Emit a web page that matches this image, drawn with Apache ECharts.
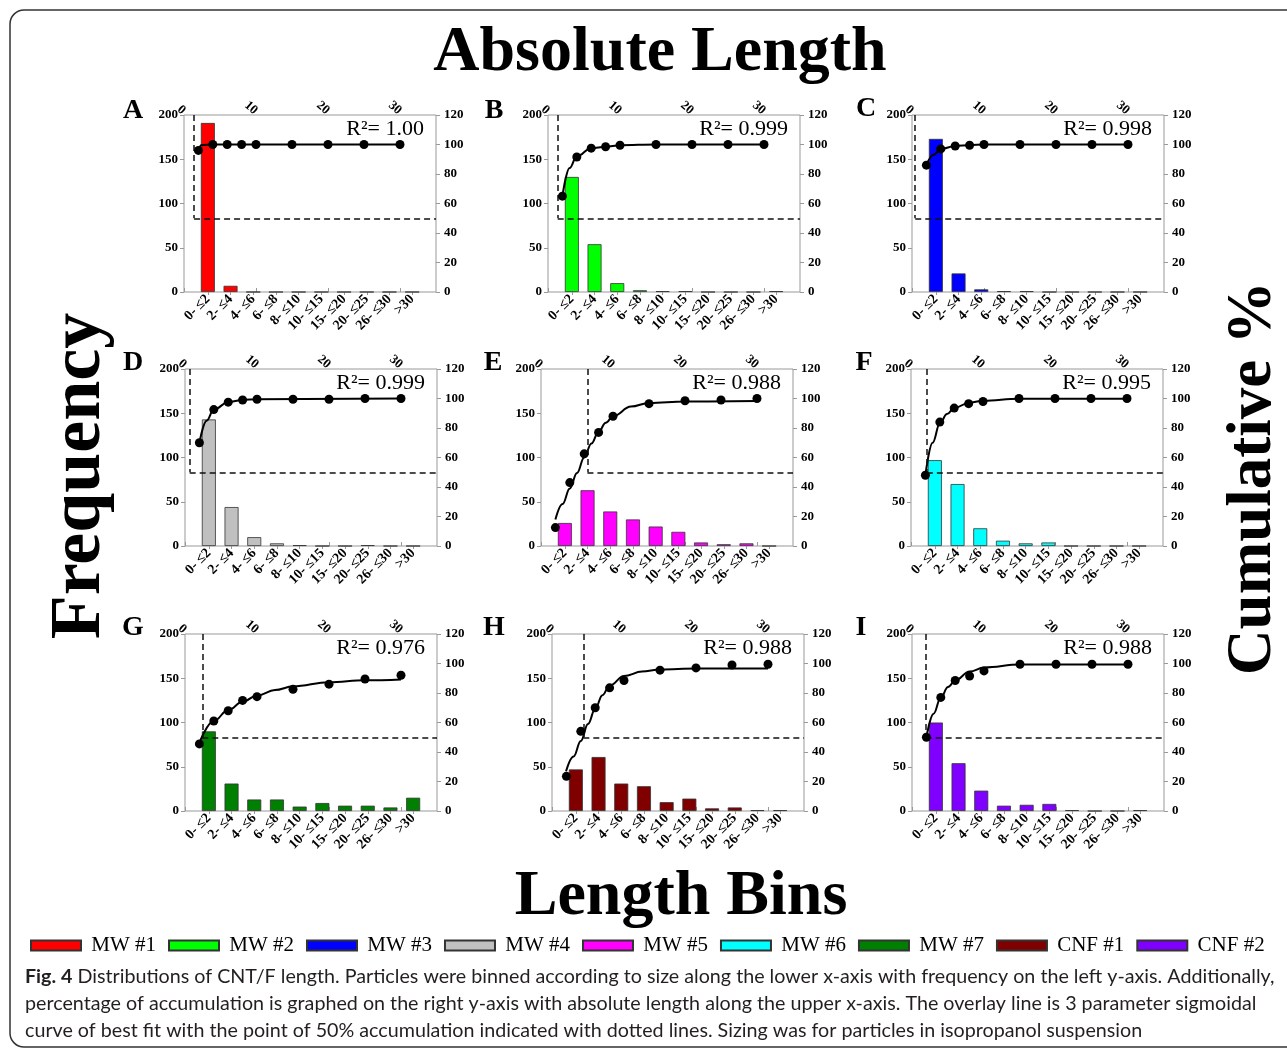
<!DOCTYPE html>
<html lang="en">
<head>
    <meta charset="UTF-8">
    <title>Absolute Length</title>
    <style>
        html, body { margin: 0; padding: 0; background: #fff; }
        #main { width: 1287px; height: 1050px; }
    </style>
</head>
<body>
<div id="main"></div>
<script src="https://cdn.jsdelivr.net/npm/echarts@6/dist/echarts.min.js"></script>
<script type="text/javascript">

    // length bins (lower x axis) and absolute lengths of the cumulative points (upper x axis)
    var bins = ['0- ≤2', '2- ≤4', '4- ≤6', '6- ≤8', '8- ≤10', '10- ≤15', '15- ≤20', '20- ≤25', '26- ≤30', '>30'];
    var lengths = [2, 4, 6, 8, 10, 15, 20, 25, 30];

    var sampleNames = ['MW #1', 'MW #2', 'MW #3', 'MW #4', 'MW #5', 'MW #6', 'MW #7', 'CNF #1', 'CNF #2'];
    var panelLetters = ['A', 'B', 'C', 'D', 'E', 'F', 'G', 'H', 'I'];
    var r2Labels = ['1.00', '0.999', '0.998', '0.999', '0.988', '0.995', '0.976', '0.988', '0.988'];
    // absolute length where the 50% dashed line is drawn
    var halfPoint = [1.4, 1.35, 0.45, 0.65, 6.45, 2.2, 2.4, 4.35, 1.9];

    // frequency per bin
    var freqA = [191, 7, 0, 0, 0, 0, 0, 0, 0, 0];
    var freqB = [130, 54, 10, 2, 1, 1, 0, 0, 0, 1];
    var freqC = [173, 21, 3, 1, 1, 0, 0, 0, 0, 0];
    var freqD = [143, 44, 10, 3, 1, 0, 0, 1, 0, 0];
    var freqE = [26, 63, 39, 30, 22, 16, 4, 2, 3, 0];
    var freqF = [97, 70, 20, 6, 3, 4, 0, 0, 0, 0];
    var freqG = [90, 31, 13, 13, 5, 9, 6, 6, 4, 15];
    var freqH = [47, 61, 31, 28, 10, 14, 3, 4, 1, 1];
    var freqI = [100, 54, 23, 6, 7, 8, 1, 0, 0, 1];

    // cumulative % at each length
    var cumA = [96, 100, 100, 100, 100, 100, 100, 100, 100];
    var cumB = [65, 91.5, 97.5, 98.5, 99.5, 100, 100, 100, 100];
    var cumC = [86, 97, 99, 99.5, 100, 100, 100, 100, 100];
    var cumD = [70, 92.5, 97.5, 99, 99.5, 99.5, 99.5, 100, 100];
    var cumE = [12.5, 43, 62.5, 77, 88, 96.5, 98.5, 99, 100];
    var cumF = [48, 84, 93.5, 96.5, 98, 100, 100, 100, 100];
    var cumG = [45.5, 61, 68, 75, 77.5, 82.5, 86, 89.5, 92];
    var cumH = [23.5, 54, 70, 83.5, 88.5, 95.5, 97, 99, 99.5];
    var cumI = [50, 77, 88.5, 91.5, 95, 99.5, 99.5, 99.5, 99.5];

    // fitted sigmoid curves as [length, %]
    var fitA = [[2, 96], [2.4, 99.5], [4, 100], [10, 100], [30, 100]];
    var fitB = [[2, 65], [3, 84], [4, 92], [6, 97.5], [8, 98.5], [10, 99.5], [15, 100], [30, 100]];
    var fitC = [[2, 86], [3, 93], [4, 97], [6, 99], [8, 99.5], [10, 100], [30, 100]];
    var fitD = [[2, 70], [3, 85], [4, 92.5], [6, 97.5], [8, 99], [10, 99.5], [30, 100]];
    var fitE = [[2, 18], [3, 28.5], [4, 39], [5, 49.5], [6, 60], [7, 69.5], [8, 77.5], [9, 83.5], [10, 88], [12.5, 94.5], [15, 97], [20, 98], [30, 98.3]];
    var fitF = [[2, 48], [3, 70], [4, 83], [5, 89.5], [6, 93.5], [8, 97], [10, 98.5], [15, 99.8], [30, 99.8]];
    var fitG = [[1.9, 45], [4, 61], [6, 68.5], [8, 74], [10, 78.3], [12.5, 82], [15, 84.5], [20, 87.3], [25, 88.6], [30, 89.2]];
    var fitH = [[1.95, 27], [3, 37], [4, 47.5], [5, 59], [6, 69.3], [7, 78.5], [8, 85], [10, 91.5], [12.5, 94.5], [15, 96], [20, 96.6], [30, 96.6]];
    var fitI = [[2, 50], [3, 66], [4, 77], [5, 84], [6, 88.5], [8, 94.5], [10, 97.3], [15, 99.3], [30, 99.3]];

    var barColors = ['#ff0000', '#00ff00', '#0000ff', '#c0c0c0', '#ff00ff', '#00ffff', '#008000', '#800000', '#8000ff'];

    var captionLines = [
        '{b|Fig. 4} Distributions of CNT/F length. Particles were binned according to size along the lower x-axis with frequency on the left y-axis. Additionally,',
        'percentage of accumulation is graphed on the right y-axis with absolute length along the upper x-axis. The overlay line is 3 parameter sigmoidal',
        'curve of best fit with the point of 50% accumulation indicated with dotted lines. Sizing was for particles in isopropanol suspension'
    ];

    var freqs = [freqA, freqB, freqC, freqD, freqE, freqF, freqG, freqH, freqI];
    var cums = [cumA, cumB, cumC, cumD, cumE, cumF, cumG, cumH, cumI];
    var fits = [fitA, fitB, fitC, fitD, fitE, fitF, fitG, fitH, fitI];

    // layout
    var panelLeft = [184, 548, 912, 185, 541, 911, 185, 552, 912];
    var rowTop = [115, 369, 634];
    var W = 252, H = 177, inset = 12.5;
    var letterPos = [[133, 110], [494, 110], [866, 108], [133, 362], [493, 362], [864, 362], [133, 627], [494, 627], [861, 627]];
    var serif = 'Liberation Serif';
    var frameColor = '#999';
    var capSize = 19.7;

    function build(extras) {
        var grids = [], xAxes = [], yAxes = [], series = [], graphics = [];

        for (var i = 0; i < 9; i++) {
            var top = rowTop[Math.floor(i / 3)];
            var left = panelLeft[i];

            // frame grid: cumulative % against absolute length
            grids.push({left: left, top: top, width: W, height: H, show: true, borderColor: frameColor, borderWidth: 1});
            // inner grid for the bars
            grids.push({left: left + inset, top: top, width: W - 2 * inset, height: H});

            xAxes.push({
                gridIndex: 2 * i, type: 'value', position: 'top', min: 0, max: 35, interval: 10,
                axisLine: {show: false},
                axisTick: {show: true, length: 4, lineStyle: {color: frameColor}},
                splitLine: {show: false},
                axisLabel: {rotate: -40, margin: 3, showMaxLabel: false, fontFamily: serif, fontWeight: 'bold', fontSize: 13, color: '#000'}
            });
            xAxes.push({
                gridIndex: 2 * i + 1, type: 'category', data: bins,
                axisLine: {show: false},
                axisTick: {show: true, alignWithLabel: true, length: 3, lineStyle: {color: frameColor}},
                axisLabel: {rotate: 45, interval: 0, margin: 5, fontFamily: serif, fontWeight: 'bold', fontSize: 14, color: '#000'}
            });
            yAxes.push({
                gridIndex: 2 * i, type: 'value', position: 'left', min: 0, max: 200, interval: 50,
                axisLine: {show: false}, axisTick: {show: true, length: 4, lineStyle: {color: frameColor}},
                splitLine: {show: false},
                axisLabel: {margin: 6, fontFamily: serif, fontWeight: 'bold', fontSize: 13, color: '#000'}
            });
            yAxes.push({
                gridIndex: 2 * i, type: 'value', position: 'right', min: 0, max: 120, interval: 20,
                axisLine: {show: false}, axisTick: {show: true, length: 4, lineStyle: {color: frameColor}},
                splitLine: {show: false},
                axisLabel: {margin: 8, fontFamily: serif, fontWeight: 'bold', fontSize: 13, color: '#000'}
            });
            yAxes.push({gridIndex: 2 * i + 1, type: 'value', min: 0, max: 200, show: false});

            series.push({
                name: sampleNames[i], type: 'bar', xAxisIndex: 2 * i + 1, yAxisIndex: 3 * i + 2,
                barWidth: 14, itemStyle: {color: barColors[i], borderColor: '#333', borderWidth: 0.8}, z: 2,
                data: freqs[i]
            });

            var hx = halfPoint[i];
            series.push({
                name: 'fit' + i, type: 'line', xAxisIndex: 2 * i, yAxisIndex: 3 * i + 1,
                smooth: 0.4, smoothMonotone: 'x', showSymbol: false,
                lineStyle: {color: '#000', width: 2}, z: 4, data: fits[i],
                markLine: {
                    silent: true, symbol: 'none', label: {show: false},
                    lineStyle: {color: '#111', width: 1.5, type: [6, 4]},
                    data: [[{coord: [hx, 120]}, {coord: [hx, 50]}], [{coord: [hx, 50]}, {coord: [35, 50]}]]
                }
            });

            var pts = [];
            for (var j = 0; j < lengths.length; j++) pts.push([lengths[j], cums[i][j]]);
            series.push({
                name: 'cum' + i, type: 'scatter', xAxisIndex: 2 * i, yAxisIndex: 3 * i + 1,
                symbolSize: 9, itemStyle: {color: '#000', opacity: 1}, z: 5, data: pts
            });

            graphics.push({type: 'text', style: {text: 'R²= ' + r2Labels[i], x: left + W - 12, y: top + 14, textAlign: 'right', textVerticalAlign: 'middle', font: '22px "Liberation Serif"', fill: '#000'}});
            graphics.push({type: 'text', style: {text: panelLetters[i], x: letterPos[i][0], y: letterPos[i][1] + 1, textAlign: 'center', textVerticalAlign: 'middle', font: 'bold 28px "Liberation Serif"', fill: '#000'}});
        }

        if (extras.titles) {
            graphics.push({type: 'text', style: {text: 'Absolute Length', x: 660, y: 53, textAlign: 'center', textVerticalAlign: 'middle', font: 'bold 64px "Liberation Serif"', fill: '#000'}});
            graphics.push({type: 'text', style: {text: 'Length Bins', x: 681, y: 897, textAlign: 'center', textVerticalAlign: 'middle', font: 'bold 64px "Liberation Serif"', fill: '#000'}});
            graphics.push({type: 'text', x: 80, y: 476, rotation: Math.PI / 2, style: {text: 'Frequency', x: 0, y: 0, textAlign: 'center', textVerticalAlign: 'middle', font: 'bold 72px "Liberation Serif"', fill: '#000'}});
            graphics.push({type: 'text', x: 1254, y: 478, rotation: Math.PI / 2, style: {text: 'Cumulative %', x: 0, y: 0, textAlign: 'center', textVerticalAlign: 'middle', font: 'bold 63px "Liberation Serif"', fill: '#000'}});
        }
        if (extras.frame) {
            graphics.push({type: 'rect', z: -10, shape: {x: 10, y: 10, width: 1300, height: 1037, r: 14}, style: {fill: 'none', stroke: '#333', lineWidth: 1.5}});
        }
        if (extras.caption) {
            for (var k = 0; k < captionLines.length; k++) {
                var cap = {text: captionLines[k], x: 25, y: 977 + k * 27, textAlign: 'left', textVerticalAlign: 'middle', font: capSize + 'px Lato', fill: '#231f20'};
                if (extras.rich) cap.rich = {b: {fontWeight: 'bold', fontSize: capSize, fontFamily: 'Lato'}};
                else cap.text = cap.text.replace('{b|Fig. 4}', 'Fig. 4');
                graphics.push({type: 'text', style: cap});
            }
        }

        return {
            animation: false,
            legend: {
                data: sampleNames, left: 25, top: 930, icon: 'rect',
                itemWidth: 50, itemHeight: 10, itemGap: 12,
                formatter: function (name) { return ' ' + name; },
                textStyle: {fontFamily: serif, fontSize: 21, color: '#000'}
            },
            grid: grids,
            xAxis: xAxes,
            yAxis: yAxes,
            series: series,
            graphic: graphics
        };
    }

    var attempts = [
        {titles: true, frame: true, caption: true, rich: true},
        {titles: true, frame: true, caption: true, rich: false},
        {titles: true, frame: false, caption: true, rich: false},
        {titles: true, frame: false, caption: false, rich: false},
        {}
    ];
    var el = document.getElementById('main');
    for (var a = 0; a < attempts.length; a++) {
        var myChart = echarts.init(el);
        try {
            myChart.setOption(build(attempts[a]));
            break;
        } catch (e) {
            myChart.dispose();
        }
    }
</script>
</body>
</html>
